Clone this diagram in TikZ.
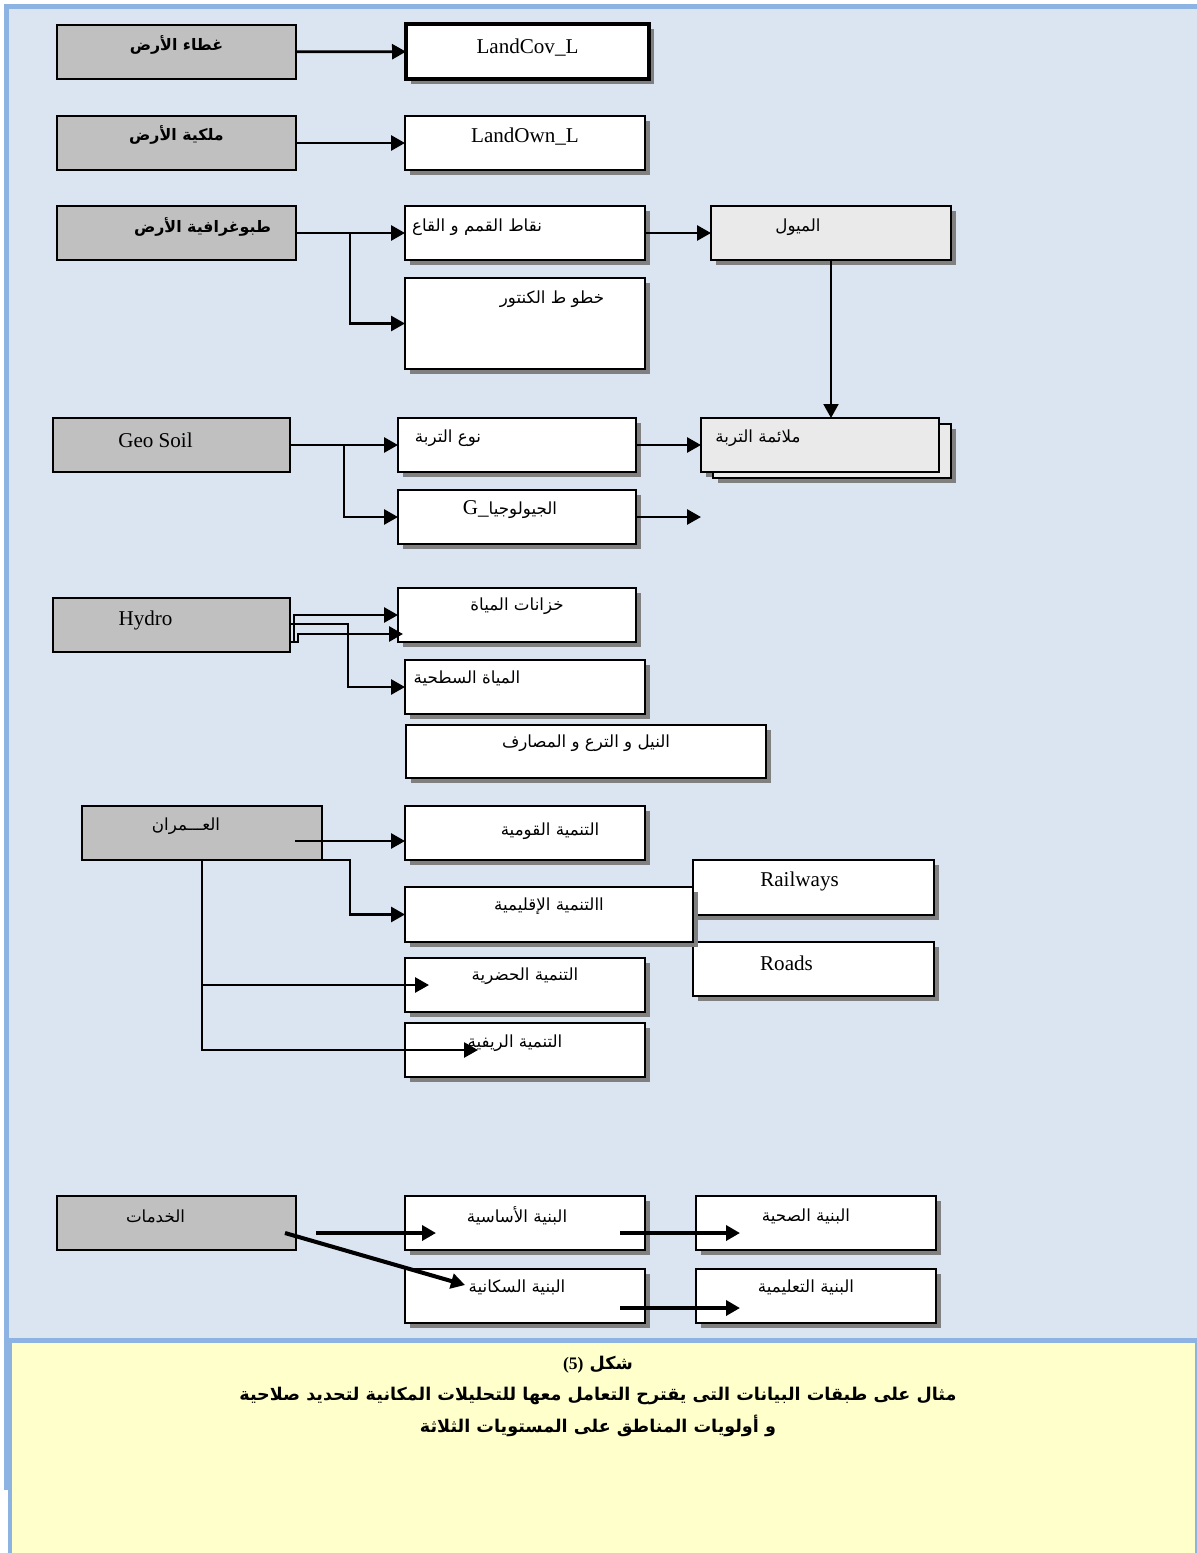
\documentclass[tikz,border=0pt]{standalone}
\usepackage{fontspec}
\setmainfont{Liberation Serif}
\newfontfamily\arfont[Script=Arabic]{DejaVu Sans}
\TeXXeTstate=1
\usetikzlibrary{arrows.meta,shadows,positioning}
\newlength\px
\setlength\px{0.02cm}
\definecolor{panelblue}{HTML}{DBE5F1}
\definecolor{frameblue}{HTML}{8DB3E2}
\definecolor{capyellow}{HTML}{FFFFCC}
\definecolor{boxgray}{HTML}{C0C0C0}
\definecolor{boxlight}{HTML}{EAEAEA}
\definecolor{shadowgray}{HTML}{808080}
\tikzset{
    x=0.02cm, y=-0.02cm, % one unit = one pixel of the scan, y runs down
    box/.style={draw, inner sep=0pt, outer sep=0pt, minimum width=240\px, minimum height=54\px},
    layer/.style={box, fill=boxgray, line width=1.1pt}, % grey source layers
    item/.style={box, fill=white, line width=1.1pt,
        drop shadow={shadow xshift=5\px, shadow yshift=-5\px, fill=shadowgray, opacity=1}},
    result/.style={item, fill=boxlight}, % derived layers
    lbl/.style={inner sep=0pt, font=\fontsize{12}{14}\selectfont},
    arlbl/.style={inner sep=0pt, font=\fontsize{9.5}{12}\selectfont\arfont},
    arbold/.style={arlbl, font=\fontsize{9}{12}\selectfont\arfont\bfseries},
    figcap/.style={inner sep=0pt, font=\fontsize{10}{12}\selectfont\arfont\bfseries},
    arr/.style={line width=1.6pt, -{Triangle[length=0.28cm, width=0.3cm]}},
    arrk/.style={arr, line width=2.3pt},
}
\begin{document}
\begin{tikzpicture}
  % page frame
  \useasboundingbox (0,0) rectangle (1197,1553);
  \fill[white] (0,0) rectangle (1197,1553);
  \fill[panelblue] (9,9) rectangle (1197,1338);
  \fill[capyellow] (12,1343) rectangle (1195,1553);
  \fill[frameblue] (4,4) rectangle (1197,9);
  \fill[frameblue] (4,4) rectangle (9,1338);
  \fill[frameblue] (4,1338) rectangle (1197,1343);
  \fill[frameblue] (4,1343) rectangle (12,1490);
  \fill[frameblue] (8,1490) rectangle (12,1553);
  \fill[frameblue] (1195,1343) rectangle (1197,1553);

  % land cover and ownership
  \node[layer, minimum width=239\px, label={[arbold,yshift=7\px]center:{\beginR غطاء  الأرض\endR}}] (gcov) at (176.5,52) {};
  \node[item, minimum width=243\px, minimum height=55\px, line width=1.9pt, label={[lbl,yshift=4\px]center:LandCov\_L}] (lcov) at (527.5,51.5) {};
  \node[layer, minimum width=239\px, label={[arbold,yshift=8\px]center:{\beginR ملكية  الأرض\endR}}] (gown) at (176.5,143) {};
  \node[item, label={[lbl,yshift=6\px]center:LandOwn\_L}] (lown) at (525,143) {};

  % topography
  \node[layer, minimum width=239\px, label={[arbold,xshift=26\px,yshift=6\px]center:{\beginR طبوغرافية الأرض\endR}}] (gtopo) at (176.5,233) {};
  \node[item, label={[arlbl,xshift=-48\px,yshift=6\px]center:{\beginR نقاط القمم و القاع\endR}}] (peaks) at (525,233) {};
  \node[result, label={[arlbl,xshift=-33\px,yshift=6\px]center:{\beginR الميول\endR}}] (slope) at (831,233) {};
  \node[item, minimum height=91\px, label={[arlbl,xshift=27\px,yshift=24\px]center:{\beginR خطو ط الكنتور\endR}}] (contour) at (525,323.5) {};

  % soil
  \node[layer, minimum width=237\px, label={[lbl,xshift=-16\px,yshift=5\px]center:Geo Soil}] (geo) at (171.5,445) {};
  \node[item, minimum width=238\px, label={[arlbl,xshift=-69\px,yshift=7\px]center:{\beginR نوع التربة\endR}}] (soiltype) at (517,445) {};
  \node[result, minimum width=238\px,
        drop shadow={shadow xshift=17\px, shadow yshift=-11\px, fill=shadowgray, opacity=1},
        copy shadow={shadow xshift=12\px, shadow yshift=-6\px, fill=boxlight, draw=black, line width=1.1pt},
        label={[arlbl,xshift=-62\px,yshift=7\px]center:{\beginR ملائمة التربة\endR}}] (suit) at (820,445) {};
  \node[item, minimum width=238\px, label={[lbl,xshift=-7\px,yshift=7\px]center:{G\_{\arfont\fontsize{9.5}{12}\selectfont\beginR الجيولوجيا\endR}}}] (geol) at (517,517) {};

  % water
  \node[layer, minimum width=237\px, label={[lbl,xshift=-26\px,yshift=5\px]center:Hydro}] (hydro) at (171.5,625) {};
  \node[item, minimum width=238\px, label={[arlbl,yshift=9\px]center:{\beginR خزانات المياة\endR}}] (tanks) at (517,615) {};
  \node[item, label={[arlbl,xshift=-58\px,yshift=9\px]center:{\beginR المياة السطحية\endR}}] (surf) at (525,687) {};
  \node[item, minimum width=360\px, minimum height=53\px, label={[arlbl,yshift=8.5\px]center:{\beginR النيل و الترع و المصارف\endR}}] (nile) at (586,751.5) {};

  % urban development
  \node[layer, label={[arlbl,xshift=-16\px,yshift=7\px]center:{\beginR العـــمران\endR}}] (umran) at (202,833) {};
  \node[item, label={[arlbl,xshift=25\px,yshift=2\px]center:{\beginR التنمية  القومية\endR}}] (natl) at (525,833) {};
  \node[item, minimum width=241\px, minimum height=55\px, label={[lbl,xshift=-14\px,yshift=6.5\px]center:Railways}] (rail) at (813.5,887.5) {};
  \node[item, minimum width=241\px, label={[lbl,xshift=-27\px,yshift=6\px]center:Roads}] (road) at (813.5,969) {};
  \node[item, minimum width=288\px, minimum height=55\px, label={[arlbl,yshift=8.5\px]center:{\beginR االتنمية الإقليمية\endR}}] (reg) at (549,914.5) {};
  \node[item, label={[arlbl,yshift=9\px]center:{\beginR التنمية الحضرية\endR}}] (urban) at (525,985) {};
  \node[item, label={[arlbl,xshift=-10\px,yshift=7\px]center:{\beginR التنمية الريفية\endR}}] (rural) at (525,1050) {};

  % services
  \node[layer, minimum width=239\px, label={[arlbl,xshift=-21\px,yshift=7\px]center:{\beginR الخدمات\endR}}] (serv) at (176.5,1223) {};
  \node[item, label={[arlbl,xshift=-8\px,yshift=7\px]center:{\beginR البنية الأساسية\endR}}] (infra) at (525,1223) {};
  \node[item, label={[arlbl,xshift=-10\px,yshift=7\px]center:{\beginR البنية الصحية\endR}}] (health) at (816,1223) {};
  \node[item, label={[arlbl,xshift=-8\px,yshift=9\px]center:{\beginR البنية  السكانية\endR}}] (pop) at (525,1296) {};
  \node[item, below=19\px of health, label={[arlbl,xshift=-10\px,yshift=9\px]center:{\beginR البنية التعليمية\endR}}] (edu) {};

  % connectors
  \path[arr]
    (gcov) edge (lcov)
    (gown) edge (lown)
    (gtopo) edge (peaks)
    (peaks) edge (slope)
    (geo) edge (soiltype)
    (soiltype) edge (suit);
  \draw[arr] (gtopo.east) ++(54,0) |- (contour.west);
  \draw[arr, line width=1.1pt] (slope.south) -- (slope.south |- suit.north);
  \draw[arr] (geo.east) ++(54,0) |- (geol.west);
  \draw[arr] (geol.east) -- (geol.east -| suit.west);

  \draw[arr] ([yshift=-17\px]hydro.east) -- ++(4,0) |- (tanks.west);
  \draw[arr] ([yshift=1\px]hydro.east) -- ++(58,0) |- (surf.west);
  \draw[arr] ([yshift=-17\px]hydro.east) -- ++(8,0) |- ([shift={(5,19)}]tanks.west);

  \coordinate (u1) at ([shift={(-27,8)}]umran.east);
  \draw[arr] (u1) -- (u1 -| natl.west);
  \draw[arr] ([xshift=-27\px]umran.south east) -- ++(55,0) |- (reg.west);
  \draw[arr] (umran.south) |- ([xshift=24\px]urban.west);
  \draw[arr] (umran.south) |- ([xshift=73\px]rural.west);

  \draw[arrk] ([shift={(20,10)}]serv.east) -- ([shift={(31,10)}]infra.west);
  \draw[arrk] ([shift={(-25,10)}]infra.east) -- ([shift={(44,10)}]health.west);
  \draw[arrk] ([shift={(-11,10)}]serv.east) -- ([shift={(60,-11)}]pop.west);
  \draw[arrk] ([shift={(-25,12)}]pop.east) -- ([shift={(44,12)}]edu.west);

  % caption
  \node[figcap] (capA) at (598,1365) {\beginR شكل \beginL{\rmfamily\bfseries (5)}\endL\endR};
  \node[figcap] (capB) at (598,1396) {\beginR مثال على طبقات البيانات التى يقترح التعامل معها للتحليلات المكانية لتحديد صلاحية\endR};
  \node[figcap] (capC) at (598,1426) {\beginR و أولويات المناطق على المستويات الثلاثة\endR};
\end{tikzpicture}
\end{document}
